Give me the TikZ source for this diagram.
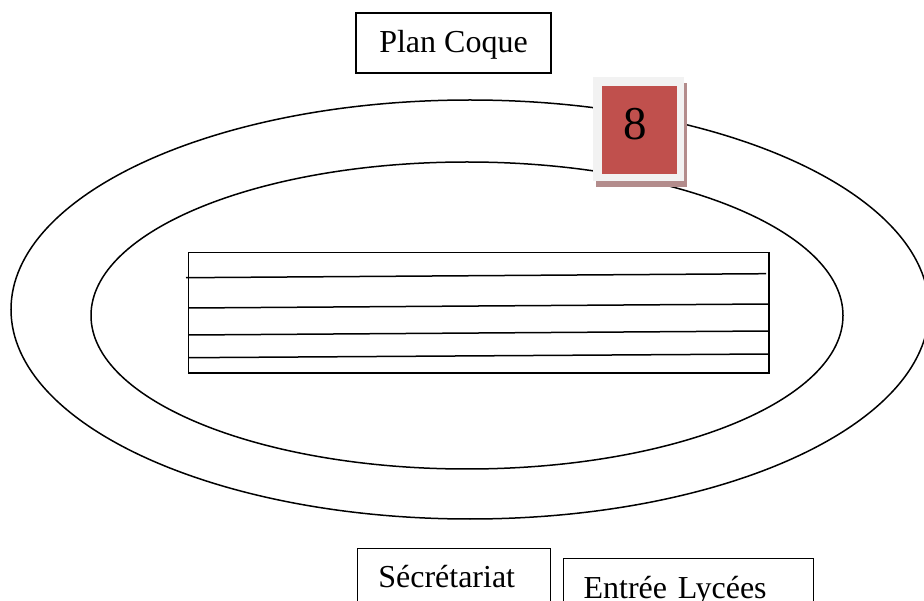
\documentclass[tikz,border=0pt]{standalone}
\usepackage{fontspec}
\setmainfont{Liberation Serif}
\usetikzlibrary{positioning,shadows}

\definecolor{tile}{RGB}{192,80,77}
\definecolor{tileframe}{RGB}{242,242,242}
\definecolor{tileshadow}{RGB}{179,140,140}

\begin{document}
\begin{tikzpicture}[x=1pt,y=-1pt,line width=1.5pt]
       \tikzstyle{every node}=[font=\fontsize{32}{38}\selectfont]
       \tikzstyle{label box}=[draw,line width=1.2pt,anchor=north west,align=left,inner ysep=0pt]

       \useasboundingbox (0,0) rectangle (924,601);
       \clip (0,0) rectangle (924,601);

       % the two tracks
       \draw (470,309.5) ellipse [x radius=459,y radius=209.5];
       \draw (467,315.5) ellipse [x radius=376,y radius=153.5];

       % the stand with its rows
       \coordinate (nw) at (188.5,252.5);
       \coordinate (se) at (769,373);
       \draw[line width=1.2pt] (nw) rectangle (se);
       \draw (186,277.7) -- (766,273.7);
       \draw (188.5,308) -- (769,304);
       \draw (188.5,335) -- (769,331);
       \draw (188.5,357.7) -- (769,354);

       % labels
       \node[draw,line width=1.2pt,minimum width=195pt,minimum height=60pt,
             text height=25pt,text depth=5pt,inner sep=0pt] (plan) at (453.5,43) {Plan Coque};
       \node[label box,text width=151pt,inner xsep=21pt,text height=39pt,text depth=40pt] (secr)
             at (356.7,548) {Sécrétariat};
       \node[label box,text width=210pt,inner xsep=20pt,text height=40pt,text depth=40pt] (entree)
             at (563,558) {Entrée Lycées};

       % number tile
       \node[fill=tileframe,minimum width=90.7pt,minimum height=104.3pt,inner sep=0pt,
             drop shadow={shadow xshift=2.7pt,shadow yshift=-6.3pt,fill=tileshadow,opacity=1}]
             (frame) at (638.65,128.85) {};
       \node[fill=tile,anchor=north west,align=left,text width=33.8pt,inner xsep=20.6pt,
             inner ysep=21.7pt,text height=32pt,text depth=12.6pt,
             font=\fontsize{47}{50}\selectfont] (num) at (601.7,85) {8};
\end{tikzpicture}
\end{document}
